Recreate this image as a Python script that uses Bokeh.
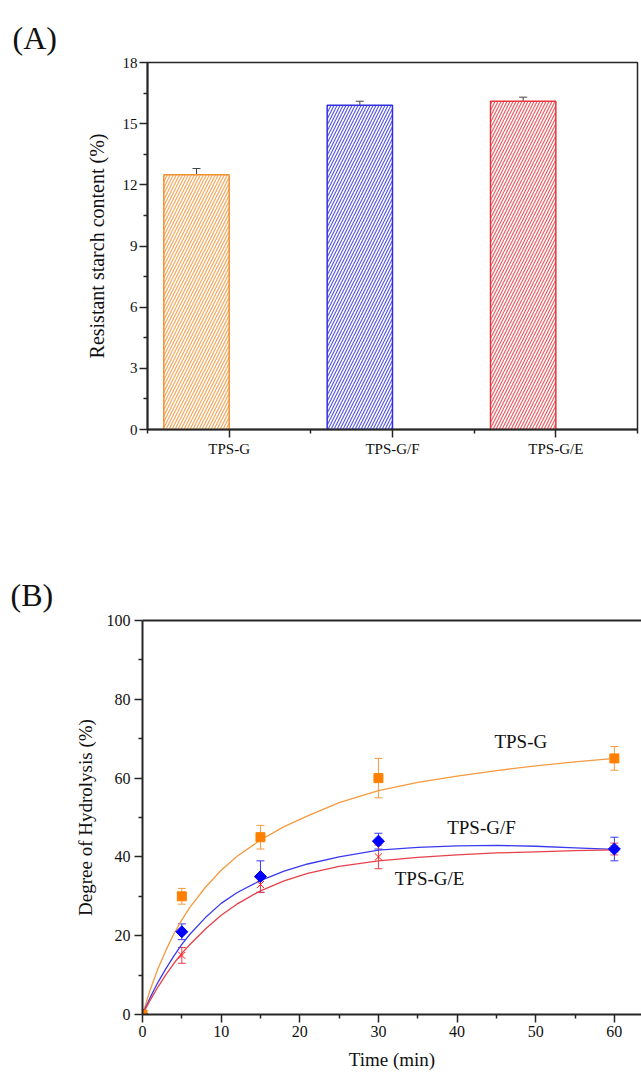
from bokeh.plotting import figure
from bokeh.layouts import column, row
from bokeh.models import (FixedTicker, Whisker, ColumnDataSource, Label, LinearAxis,
                          TeeHead, Range1d)
from bokeh.embed import file_html
from bokeh.resources import INLINE
import math

FONT = "Liberation Serif"
AXC = "#262626"

# ---------------- Panel A data ----------------
categories = ["TPS-G", "TPS-G/F", "TPS-G/E"]
rs_content = [12.5, 15.9, 16.1]
rs_err = [0.3, 0.2, 0.2]
bar_colors = ["#F39030", "#3030E0", "#E8353C"]
a_yticks = [0, 3, 6, 9, 12, 15, 18]

# ---------------- Panel B data ----------------
time_min = [0, 5, 15, 30, 60]
dh_g = [0, 30, 45, 60, 65]
dh_g_err = [0, 2, 3, 5, 3]
dh_gf = [0, 21, 35, 44, 42]
dh_gf_err = [0, 2, 4, 2, 3]
dh_ge = [0, 15, 33, 40, 42]
dh_ge_err = [0, 2, 2, 3, 1.5]

# fitted curves
fit_t = [0, 1, 2, 3, 4, 5, 6, 8, 10, 12, 15, 18, 21, 25, 30, 35, 40, 45, 50, 55, 60]
fit_g = [0, 6.4, 11.8, 16.4, 20.5, 24.0, 27.1, 32.3, 36.6, 40.1, 44.3, 47.7, 50.4,
         53.8, 56.8, 58.9, 60.5, 61.9, 63.1, 64.1, 65.0]
fit_gf = [0, 4.4, 8.3, 11.7, 14.9, 17.8, 20.3, 24.6, 28.2, 30.9, 34.0, 36.4, 38.2,
          40.0, 41.7, 42.4, 42.8, 42.9, 42.7, 42.3, 41.9]
fit_ge = [0, 3.7, 7.1, 10.2, 13.0, 15.5, 17.7, 21.7, 25.2, 28.0, 31.4, 33.9, 35.8,
          37.6, 39.0, 39.9, 40.5, 41.0, 41.3, 41.6, 41.8]
b_xticks = [0, 10, 20, 30, 40, 50, 60]
b_yticks = [0, 20, 40, 60, 80, 100]

series_colors = {"g": "#FF8000", "gf": "#0000FF", "ge": "#FF1A1A"}
line_colors = {"g": "#F59A40", "gf": "#3A3AF0", "ge": "#E8404A"}


def style_axis(ax, tick_font, label_font, label_standoff, axis_label_standoff):
    ax.axis_line_color = AXC
    ax.axis_line_width = 2
    ax.major_tick_line_color = AXC
    ax.major_tick_line_width = 1.5
    ax.minor_tick_line_color = AXC
    ax.minor_tick_line_width = 1.5
    ax.major_tick_out = 8
    ax.major_tick_in = 0
    ax.minor_tick_out = 4
    ax.minor_tick_in = 0
    ax.major_label_text_font = FONT
    ax.major_label_text_font_size = tick_font
    ax.major_label_text_color = "#111111"
    ax.axis_label_text_font = FONT
    ax.axis_label_text_font_size = label_font
    ax.axis_label_text_font_style = "normal"
    ax.axis_label_text_color = "#111111"
    ax.major_label_standoff = label_standoff
    ax.axis_label_standoff = axis_label_standoff


def panel_letter(p, text, left_px, frame_left, standoff, valign="bottom", baseline="bottom"):
    p.title.text = text
    p.title.align = "left"
    p.title.offset = left_px - frame_left
    p.title.text_font = FONT
    p.title.text_font_size = "32px"
    p.title.text_font_style = "normal"
    p.title.text_color = "#111111"
    p.title.standoff = standoff
    p.title.vertical_align = valign
    p.title.text_baseline = baseline


# ---------------- Figure A ----------------
A_W, A_H = 641, 548
A_L, A_R, A_T, A_B = 147, 4, 62, 119
pa = figure(width=A_W, height=A_H, x_range=Range1d(0.5, 3.5), y_range=Range1d(0, 18),
            output_backend="svg", toolbar_location=None, title_location="above",
            min_border_left=A_L, min_border_right=A_R, min_border_top=A_T, min_border_bottom=A_B)
pa.xgrid.visible = False
pa.ygrid.visible = False
pa.outline_line_color = AXC
pa.outline_line_width = 1.5
pa.background_fill_color = "white"
pa.border_fill_color = "white"

pos = [i + 1 for i in range(len(categories))]
bar_x = [p - 0.2 for p in pos]
src_a = ColumnDataSource(dict(
    x=bar_x, top=rs_content, color=bar_colors,
    upper=[v + e for v, e in zip(rs_content, rs_err)],
    lower=[v - e for v, e in zip(rs_content, rs_err)]))
pa.vbar(x="x", top="top", bottom=0, width=0.4, source=src_a,
        fill_color="white", line_color="color", line_width=1.5,
        hatch_pattern="/", hatch_color="color", hatch_scale=6, hatch_weight=1.2,
        hatch_alpha=0.8)
wa = Whisker(base="x", upper="upper", lower="lower", source=src_a,
             line_color="#444444", line_width=1,
             upper_head=TeeHead(size=8, line_color="#444444", line_width=1),
             lower_head=TeeHead(size=8, line_color="#444444", line_width=1))
pa.add_layout(wa)

pa.xaxis.ticker = FixedTicker(ticks=pos, minor_ticks=[p - 0.5 for p in pos] + [pos[-1] + 0.5])
pa.xaxis.major_label_overrides = {p: c for p, c in zip(pos, categories)}
pa.yaxis.ticker = FixedTicker(ticks=a_yticks, minor_ticks=[t + 1.5 for t in a_yticks[:-1]])
pa.yaxis.axis_label = "Resistant starch content (%)"
style_axis(pa.xaxis[0], "15px", "20px", 3, 6)
style_axis(pa.yaxis[0], "15px", "20px", 2, 12)
panel_letter(pa, "(A)", 12, A_L, 12, valign="middle", baseline="alphabetic")

# ---------------- Figure B ----------------
B_W, B_H = 641, 524
B_L, B_R, B_T, B_B = 142, 0, 72, 58
pb = figure(width=B_W, height=B_H, x_range=Range1d(0, 63.45), y_range=Range1d(0, 100),
            output_backend="svg", toolbar_location=None, title_location="above",
            min_border_left=B_L, min_border_right=B_R, min_border_top=B_T, min_border_bottom=B_B)
pb.xgrid.visible = False
pb.ygrid.visible = False
pb.outline_line_color = None
pb.background_fill_color = "white"
pb.border_fill_color = "white"

top_axis = LinearAxis(ticker=FixedTicker(ticks=[]), axis_line_color=AXC, axis_line_width=2,
                      major_tick_line_color=None, minor_tick_line_color=None,
                      major_label_standoff=0, axis_label_standoff=0)
pb.add_layout(top_axis, "above")

pb.below[0].ticker = FixedTicker(ticks=b_xticks, minor_ticks=[t + 5 for t in b_xticks])
pb.left[0].ticker = FixedTicker(ticks=b_yticks, minor_ticks=[t + 10 for t in b_yticks[:-1]])
pb.below[0].axis_label = "Time (min)"
pb.left[0].axis_label = "Degree of Hydrolysis (%)"
style_axis(pb.below[0], "16px", "19px", 3, 9)
style_axis(pb.left[0], "16px", "19px", 4, 8)

series = [("g", dh_g, dh_g_err, fit_g), ("gf", dh_gf, dh_gf_err, fit_gf),
          ("ge", dh_ge, dh_ge_err, fit_ge)]

# error bars
for key, vals, errs, fit in series:
    keep = [i for i, e in enumerate(errs) if e > 0]
    s = ColumnDataSource(dict(
        x=[time_min[i] for i in keep],
        upper=[vals[i] + errs[i] for i in keep],
        lower=[vals[i] - errs[i] for i in keep]))
    c = line_colors[key]
    pb.add_layout(Whisker(base="x", upper="upper", lower="lower", source=s,
                          line_color=c, line_width=1,
                          upper_head=TeeHead(size=8, line_color=c, line_width=1),
                          lower_head=TeeHead(size=8, line_color=c, line_width=1)))

# fitted curves
for key, vals, errs, fit in series:
    pb.line(fit_t, fit, line_color=line_colors[key], line_width=1.3)

# markers
pb.scatter(time_min, dh_ge, marker="x", size=10, line_color=series_colors["ge"], line_width=1)
pb.scatter(time_min, dh_gf, marker="square", angle=math.pi / 4, size=8.5,
           fill_color=series_colors["gf"], line_color=series_colors["gf"])
pb.scatter(time_min, dh_g, marker="square", size=9,
           fill_color=series_colors["g"], line_color=series_colors["g"])

# curve labels
for txt, tx, ty in [("TPS-G", 48.1, 69.4), ("TPS-G/F", 43.1, 47.4), ("TPS-G/E", 36.5, 34.6)]:
    pb.add_layout(Label(x=tx, y=ty, text=txt, text_font=FONT, text_font_size="19px",
                        text_color="#111111", text_align="center", text_baseline="middle"))

panel_letter(pb, "(B)", 10, B_L, 15)

layout = column(row(pa), row(pb), spacing=0)
open("out.html", "w").write(file_html(layout, INLINE))
